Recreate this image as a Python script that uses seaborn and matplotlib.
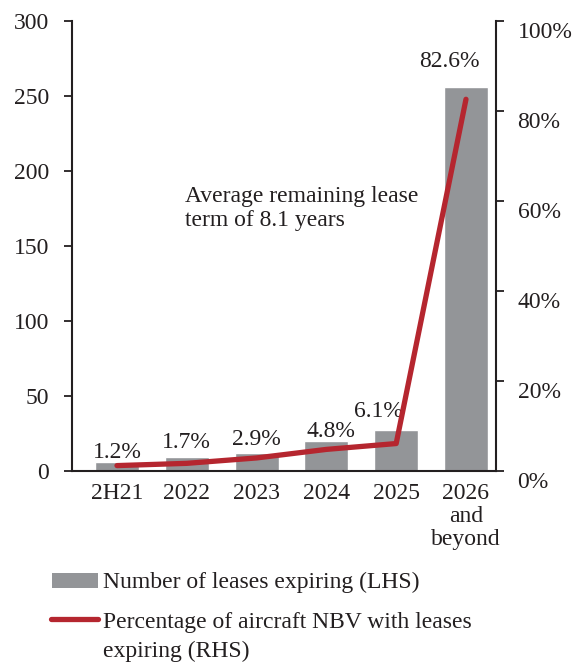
import numpy as np
import matplotlib
matplotlib.use("Agg")
import matplotlib.pyplot as plt
import matplotlib.transforms as mtransforms
from matplotlib import font_manager
from matplotlib.patches import Rectangle
from matplotlib.lines import Line2D
import seaborn as sns
import pandas as pd

# Lease expiry profile
periods = ["2H21", "2022", "2023", "2024", "2025", "2026\nand\nbeyond"]
leases_expiring = [6, 9, 12, 20, 27, 256]
nbv_pct = [1.2, 1.7, 2.9, 4.8, 6.1, 82.6]
left_ticks = [0, 50, 100, 150, 200, 250, 300]
right_ticks = [0, 20, 40, 60, 80, 100]

BAR_GREY = "#939598"
LINE_RED = "#B5262F"
TEXT = "#231F20"
FS = 17

# Register the Liberation Serif files explicitly
serif_name = "Liberation Serif"
for f in font_manager.findSystemFonts():
    if "liberationserif" in f.lower().replace("-", "").replace("_", ""):
        font_manager.fontManager.addfont(f)

sns.set_style("white")
plt.rcParams["font.family"] = [serif_name, "DejaVu Serif"]
plt.rcParams["text.color"] = TEXT
plt.rcParams["axes.labelcolor"] = TEXT
plt.rcParams["xtick.color"] = TEXT
plt.rcParams["ytick.color"] = TEXT

fig = plt.figure(figsize=(5.74, 6.66), dpi=100)
ax = fig.add_axes([0.1254, 0.2928, 0.7387, 0.6757])

df = pd.DataFrame({"period": periods, "leases": leases_expiring, "pct": nbv_pct})
df["pos"] = np.arange(len(df))

sns.barplot(data=df, x="period", y="leases", color=BAR_GREY, saturation=1,
            width=0.63, ax=ax)

ax.set_xlim(-0.645, 5.43)
ax.set_ylim(0, 300)
ax.set_yticks(left_ticks)
ax.set_xlabel("")
ax.set_ylabel("")

ax2 = ax.twinx()
sns.lineplot(data=df, x="pos", y="pct", color=LINE_RED, linewidth=3.8,
             ax=ax2, solid_capstyle="round")
ax2.set_ylim(0, 100)
ax2.set_yticks(right_ticks)
ax2.set_yticklabels([f"{t}%" for t in right_ticks])
ax2.set_ylabel("")
ax2.set_xlim(-0.645, 5.43)

# Spines and ticks
for a in (ax, ax2):
    for s in a.spines.values():
        s.set_visible(False)
    a.grid(False)
ax.spines["left"].set_visible(True)
ax.spines["bottom"].set_visible(True)
ax2.spines["right"].set_visible(True)
for s in (ax.spines["left"], ax.spines["bottom"], ax2.spines["right"]):
    s.set_color(TEXT)
    s.set_linewidth(1.5)

ax.tick_params(axis="y", length=5.5, width=1.3, labelsize=FS, pad=11,
               direction="out", left=True)
ax.tick_params(axis="x", length=0, labelsize=FS, pad=9)
ax2.tick_params(axis="y", length=5.5, width=1.3, labelsize=FS, pad=10,
                direction="out", right=True)
ax2.tick_params(axis="x", bottom=False, labelbottom=False)

for lbl in ax.get_xticklabels():
    lbl.set_linespacing(1.12)

shift = mtransforms.ScaledTranslation(0, -6.5 / 72, fig.dpi_scale_trans)
for lbl in ax2.get_yticklabels():
    lbl.set_transform(lbl.get_transform() + shift)

# Percentage labels above the bars
label_offsets = [(0, 7), (0, 11), (0, 10), (3, 7), (-13, 14), (-12, 18)]
for (i, row), (dx, dy) in zip(df.iterrows(), label_offsets):
    ax.annotate(f"{row['pct']:.1f}%", xy=(row["pos"], row["leases"]),
                xytext=(dx, dy), textcoords="offset points",
                ha="center", va="center", fontsize=FS, color=TEXT)

ax.text(0.267, 0.634, "Average remaining lease\nterm of 8.1 years",
        transform=ax.transAxes, ha="left", va="top", fontsize=FS,
        linespacing=1.2, color=TEXT)

# Legend
W, H = 574, 666
def fx(px):
    return px / W
def fy(py):
    return 1 - py / H

fig.patches.append(Rectangle((fx(52), fy(588)), fx(98) - fx(52), fy(573) - fy(588),
                             transform=fig.transFigure, facecolor=BAR_GREY,
                             edgecolor="none"))
fig.lines.append(Line2D([fx(51), fx(98)], [fy(619), fy(619)],
                        transform=fig.transFigure, color=LINE_RED,
                        linewidth=3.8, solid_capstyle="round"))
fig.text(fx(103), fy(588), "Number of leases expiring (LHS)", fontsize=FS,
         ha="left", va="baseline", color=TEXT)
fig.text(fx(103), fy(628), "Percentage of aircraft NBV with leases", fontsize=FS,
         ha="left", va="baseline", color=TEXT)
fig.text(fx(103), fy(657), "expiring (RHS)", fontsize=FS,
         ha="left", va="baseline", color=TEXT)

fig.savefig("out.png", dpi=100)
